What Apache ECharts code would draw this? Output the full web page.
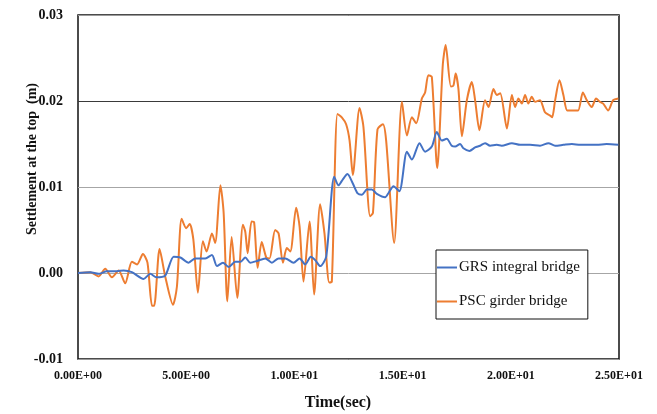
<!DOCTYPE html>
<html>
<head>
<meta charset="utf-8">
<script src="https://cdn.jsdelivr.net/npm/echarts@6/dist/echarts.min.js"></script>
<style>
  html, body { margin: 0; padding: 0; background: #fff; }
  #chart { width: 657px; height: 414px; }
</style>
</head>
<body>
<div id="chart"></div>
<script>
// Settlement histories at the top of the two bridge types (time in s, settlement in m)
const grsTime = [0, 0.57, 0.95, 1.34, 1.8, 2.11, 2.49, 3.03, 3.34, 3.62, 4.03, 4.42, 4.73, 5.11, 5.42, 5.88,
  6.19, 6.42, 6.7, 6.96, 7.27, 7.5, 7.73, 7.96, 8.27, 8.65, 8.96, 9.27, 9.58, 9.96, 10.24, 10.5, 10.76,
  10.96, 11.19, 11.47, 11.84, 12.04, 12.24, 12.45, 12.7, 12.91, 13.12, 13.35, 13.58, 13.81, 14.19, 14.35,
  14.58, 14.85, 15.2, 15.43, 15.78, 16.04, 16.35, 16.58, 16.81, 17.04, 17.27, 17.43, 17.66, 17.81, 18.09,
  18.35, 18.58, 18.81, 19.04, 19.35, 19.58, 20.05, 20.43, 20.89, 21.35, 21.74, 22.05, 22.43, 22.82, 23.21,
  23.59, 23.97, 24.43, 24.97];
const grsSettle = [0, 0.0001, -0.0001, 0.0002, 0.0002, 0.0003, 0.0001, -0.0007, -0.0001, -0.0005, -0.0003,
  0.0019, 0.0018, 0.0012, 0.0017, 0.0017, 0.0021, 0.0008, 0.0012, 0.0007, 0.0013, 0.0013, 0.0018, 0.0012,
  0.0014, 0.0017, 0.0012, 0.0017, 0.0017, 0.0012, 0.0017, 0.001, 0.0019, 0.0015, 0.0008, 0.0019, 0.0112,
  0.0102, 0.0109, 0.0115, 0.0104, 0.0093, 0.0091, 0.0097, 0.0097, 0.0092, 0.0088, 0.0093, 0.0101, 0.0095,
  0.0141, 0.0132, 0.0151, 0.0141, 0.0147, 0.0164, 0.0154, 0.0156, 0.0148, 0.0147, 0.015, 0.0145, 0.0142,
  0.0146, 0.0148, 0.0151, 0.0148, 0.0149, 0.0148, 0.0151, 0.0149, 0.0149, 0.0148, 0.0151, 0.0148, 0.0149,
  0.015, 0.0149, 0.0149, 0.0149, 0.015, 0.0149];

const pscTime = [0, 0.57, 0.95, 1.26, 1.57, 1.88, 2.18, 2.49, 2.73, 3.0, 3.21, 3.42, 3.52, 3.77, 4.03, 4.39,
  4.57, 4.79, 5.0, 5.16, 5.33, 5.54, 5.77, 5.94, 6.19, 6.34, 6.58, 6.73, 6.9, 7.1, 7.36, 7.62, 7.73, 7.84,
  8.02, 8.14, 8.3, 8.49, 8.7, 8.85, 9.11, 9.27, 9.47, 9.65, 9.81, 10.08, 10.24, 10.42, 10.7, 10.91, 11.19,
  11.39, 11.61, 11.73, 11.99, 12.19, 12.39, 12.55, 12.7, 13.01, 13.19, 13.5, 13.63, 13.84, 14.09, 14.24,
  14.61, 14.97, 15.2, 15.43, 15.63, 15.89, 16.04, 16.19, 16.35, 16.6, 16.86, 16.99, 17.23, 17.35, 17.45,
  17.58, 17.74, 17.97, 18.2, 18.35, 18.55, 18.81, 18.97, 19.2, 19.35, 19.51, 19.82, 20.05, 20.2, 20.35,
  20.51, 20.66, 20.81, 20.97, 21.12, 21.35, 21.58, 21.82, 21.91, 22.05, 22.25, 22.43, 22.61, 22.89, 23.11,
  23.33, 23.51, 23.74, 23.94, 24.12, 24.27, 24.5, 24.73, 24.97];
const pscSettle = [0, 0.0001, -0.0004, 0.0005, -0.0005, 0.0003, -0.0012, 0.0013, 0.001, 0.0022, 0.0012,
  -0.0038, -0.0038, 0.0028, -0.0004, -0.0037, -0.0016, 0.0063, 0.0052, 0.0057, 0.0039, -0.0023, 0.0037,
  0.0025, 0.0046, 0.0035, 0.0102, 0.007, -0.0033, 0.0042, -0.0029, 0.0056, 0.0048, 0.0023, 0.006, 0.0059,
  0.0006, 0.0036, 0.0018, 0.0017, 0.005, 0.0046, 0.0012, 0.0029, 0.0025, 0.0076, 0.0054, -0.001, 0.006,
  -0.0025, 0.008, 0.0046, -0.0011, -0.001, 0.0185, 0.0181, 0.0173, 0.0154, 0.0114, 0.0192, 0.017, 0.0066,
  0.007, 0.0167, 0.0173, 0.0154, 0.0035, 0.0199, 0.016, 0.0181, 0.0174, 0.0203, 0.021, 0.023, 0.0228,
  0.0122, 0.0243, 0.0265, 0.0217, 0.0218, 0.0232, 0.0214, 0.0159, 0.0201, 0.0222, 0.0201, 0.0166, 0.0201,
  0.0193, 0.0214, 0.0207, 0.0209, 0.0168, 0.0207, 0.0193, 0.0203, 0.0197, 0.0207, 0.0197, 0.0205, 0.0199,
  0.0201, 0.0187, 0.0183, 0.0181, 0.0201, 0.0224, 0.0207, 0.0189, 0.0189, 0.0189, 0.021, 0.0201, 0.0193,
  0.0203, 0.0199, 0.0197, 0.0189, 0.0201, 0.0203];

const seriesNames = ['GRS integral bridge', 'PSC girder bridge'];
const seriesColors = ['#4472C4', '#ED7D31'];
const timeTicks = [0, 5, 10, 15, 20, 25];
const settleTicks = [-0.01, 0, 0.01, 0.02, 0.03];

const pairs = (xs, ys) => xs.map((x, i) => [x, ys[i]]);

// Scientific-notation tick labels such as 1.50E+01
function sci(v) {
  if (v === 0) return '0.00E+00';
  const e = Math.floor(Math.log10(Math.abs(v)));
  const m = v / Math.pow(10, e);
  return m.toFixed(2) + 'E' + (e < 0 ? '-' : '+') + String(Math.abs(e)).padStart(2, '0');
}

const serif = '"Liberation Serif", "Times New Roman", serif';
const chart = echarts.init(document.getElementById('chart'), null, { renderer: 'canvas' });

chart.setOption({
  animation: false,
  backgroundColor: '#fff',
  grid: {
    left: 78, right: 38, top: 15, bottom: 55,
    show: true, borderColor: '#111', borderWidth: 1.5, backgroundColor: 'transparent'
  },
  xAxis: {
    type: 'value',
    min: timeTicks[0], max: timeTicks[timeTicks.length - 1], interval: timeTicks[1] - timeTicks[0],
    axisLine: { show: false }, axisTick: { show: false }, splitLine: { show: false },
    axisLabel: {
      formatter: sci, margin: 11,
      fontFamily: serif, fontWeight: 'bold', fontSize: 12, color: '#111'
    }
  },
  yAxis: {
    type: 'value',
    min: settleTicks[0], max: settleTicks[settleTicks.length - 1], interval: 0.01,
    axisLine: { show: false }, axisTick: { show: false },
    splitLine: {
      show: true,
      lineStyle: { color: ['#9a9a9a', '#a6a6a6', '#a6a6a6', '#3a3a3a', '#9a9a9a'], width: 1 }
    },
    axisLabel: {
      formatter: v => v.toFixed(2), margin: 15,
      fontFamily: serif, fontWeight: 'bold', fontSize: 14, color: '#111'
    }
  },
  legend: {
    data: seriesNames,
    orient: 'vertical',
    left: 436, top: 250,
    backgroundColor: '#fff', borderColor: '#111', borderWidth: 1,
    padding: [9, 8, 9, 1],
    itemGap: 17, itemWidth: 20, itemHeight: 2, icon: 'rect',
    textStyle: { fontFamily: serif, fontSize: 15, color: '#111', lineHeight: 17, padding: [0, 0, 0, -3] }
  },
  graphic: [
    {
      type: 'text', x: 32, y: 159, rotation: Math.PI / 2,
      style: {
        text: 'Settlement at the top  (m)', fill: '#111',
        font: 'bold 14px ' + serif, textAlign: 'center', textVerticalAlign: 'middle'
      }
    },
    {
      type: 'text', x: 338, y: 403,
      style: {
        text: 'Time(sec)', fill: '#111',
        font: 'bold 16px ' + serif, textAlign: 'center', textVerticalAlign: 'middle'
      }
    }
  ],
  series: [
    {
      name: seriesNames[0], type: 'line', data: pairs(grsTime, grsSettle),
      showSymbol: false, smooth: 0.25, color: seriesColors[0],
      lineStyle: { width: 2, color: seriesColors[0] }, z: 3
    },
    {
      name: seriesNames[1], type: 'line', data: pairs(pscTime, pscSettle),
      showSymbol: false, smooth: 0.25, color: seriesColors[1],
      lineStyle: { width: 2, color: seriesColors[1] }, z: 2
    }
  ]
});
</script>
</body>
</html>
